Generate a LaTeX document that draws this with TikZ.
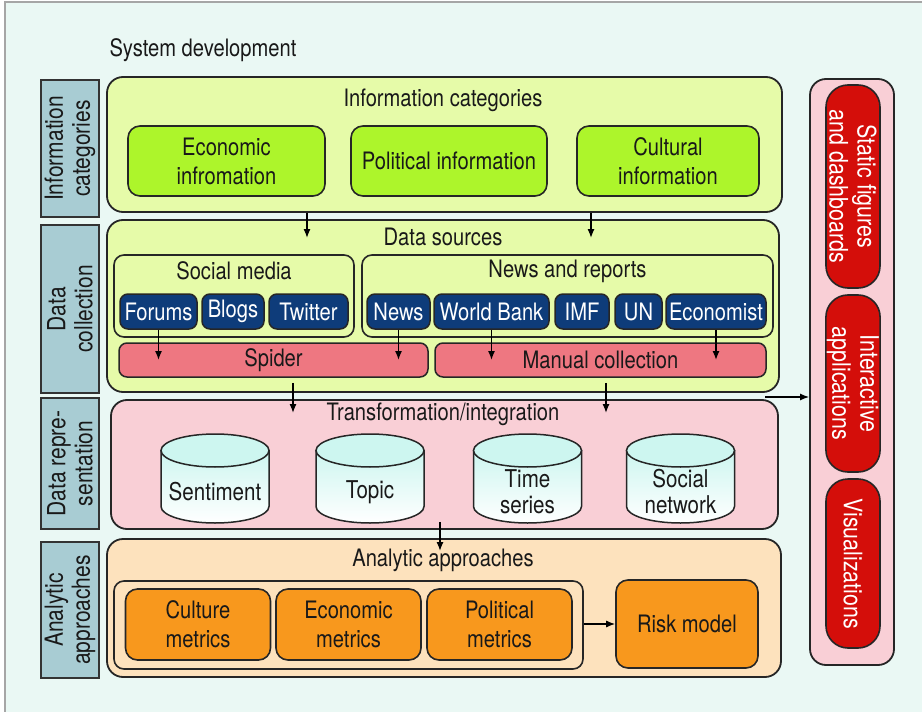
\documentclass[tikz,border=0pt]{standalone}
\usepackage{fontspec}
\setmainfont{TeX Gyre Heros}[FakeStretch=0.84]
\usepackage{tikz}
\usetikzlibrary{shapes.geometric, arrows.meta, positioning}

\definecolor{bgmint}{HTML}{EAF8F4}
\definecolor{sidebox}{HTML}{A8CCD3}
\definecolor{lightlime}{HTML}{E6FBA9}
\definecolor{lime}{HTML}{ADF52B}
\definecolor{navy}{HTML}{0E3C7A}
\definecolor{salmon}{HTML}{EE7781}
\definecolor{lightpink}{HTML}{F9CFD6}
\definecolor{cylcyan}{HTML}{CDF6F0}
\definecolor{peach}{HTML}{FDE2BD}
\definecolor{orange}{HTML}{F8981D}
\definecolor{deepred}{HTML}{D40E0A}

\begin{document}
\begin{tikzpicture}[
    x=1pt, y=-1pt,
    every node/.style={font=\fontsize{24}{29}\selectfont, text=black!90},
    sidelabel/.style={rectangle, draw=black!80, line width=1.8pt, fill=sidebox, rotate=90, align=center, minimum height=58pt, inner sep=1pt, font=\fontsize{25}{27}\selectfont},
    panel/.style={rectangle, draw=black!85, line width=1.8pt, rounded corners=16pt},
    subpanel/.style={rectangle, draw=black!85, line width=1.6pt, rounded corners=10pt},
    catbox/.style={rectangle, draw=black!85, line width=1.6pt, rounded corners=12pt, fill=lime, align=center, minimum height=70pt},
    srcbox/.style={rectangle, draw=black!85, line width=1.5pt, rounded corners=8pt, fill=navy, text=white, minimum height=35pt, inner sep=0pt, font=\fontsize{24}{28}\selectfont},
    barbox/.style={rectangle, draw=black!85, line width=1.5pt, rounded corners=8pt, fill=salmon, minimum height=34pt},
    cylbody/.style={draw=black!85, line width=1.5pt, top color=cylcyan, bottom color=white},
    cyltop/.style={draw=black!85, line width=1.5pt, fill=cylcyan},
    storetext/.style={align=center, font=\fontsize{24.5}{26}\selectfont},
    metricbox/.style={rectangle, draw=black!85, line width=1.6pt, rounded corners=12pt, fill=orange, align=center, minimum width=145pt, minimum height=71pt},
    redbox/.style={rectangle, draw=black!85, line width=1.6pt, rounded corners=22pt, fill=deepred, text=white, rotate=-90, align=center, minimum height=54pt, inner sep=1pt, font=\fontsize{25.5}{28}\selectfont},
    line/.style={draw, -{Latex[length=9pt, width=7pt]}, line width=1.3pt}
]
    % Frame
    \useasboundingbox (0,0) rectangle (922,712);
    \fill[bgmint] (5,2) rectangle (922,712);
    \draw[gray!70, line width=1.5pt] (5,712) -- (5,2) -- (922,2);

    \node[anchor=west] (sysdev) at (106,50) {System development};

    % Side labels
    \node[sidelabel, minimum width=137pt] (lblinfo) at (70,148.5) {Information\\categories};
    \node[sidelabel, minimum width=168pt] (lbldata) at (70,309) {Data\\collection};
    \node[sidelabel, minimum width=131pt] (lblrep) at (70,463.5) {Data repre-\\sentation};
    \node[sidelabel, minimum width=136pt] (lblana) at (70,610) {Analytic\\approaches};

    % Information categories
    \node[panel, fill=lightlime, minimum width=675pt, minimum height=135pt] (infopanel) at (444.5,144.5) {};
    \node (infotitle) at (443,100) {Information categories};
    \node[catbox, minimum width=197pt] (econ) at (226.5,161) {Economic\\infromation};
    \node[catbox, minimum width=196pt] (polit) at (449,161) {Political information};
    \node[catbox, minimum width=182pt] (cult) at (668,161) {Cultural\\information};

    % Data collection
    \node[panel, fill=lightlime, minimum width=672pt, minimum height=172pt] (datapanel) at (443,306) {};
    \node (datatitle) at (443,237) {Data sources};
    \node[subpanel, minimum width=240pt, minimum height=82pt] (social) at (234,296) {};
    \node[subpanel, minimum width=411pt, minimum height=82pt] (newsrep) at (567.5,296) {};
    \node (socialtitle) at (234,271) {Social media};
    \node (newstitle) at (567.5,271) {News and reports};

    \node[srcbox, minimum width=77pt] (forums) at (158.5,311.5) {Forums};
    \node[srcbox, minimum width=62pt] (blogs) at (233,311.5) {Blogs};
    \node[srcbox, minimum width=79pt] (twitter) at (308.5,311.5) {Twitter};
    \node[srcbox, minimum width=63pt] (news) at (398.5,311.5) {News};
    \node[srcbox, minimum width=115pt] (wbank) at (491.5,311.5) {World Bank};
    \node[srcbox, minimum width=54pt] (imf) at (582,311.5) {IMF};
    \node[srcbox, minimum width=47pt] (un) at (638.5,311.5) {UN};
    \node[srcbox, minimum width=100pt] (economist) at (716,311.5) {Economist};

    \node[barbox, minimum width=309pt] (spider) at (273.5,360) {Spider};
    \node[barbox, minimum width=331pt] (manual) at (600.5,360) {Manual collection};

    % Data representation
    \node[panel, fill=lightpink, minimum width=667pt, minimum height=129pt] (reppanel) at (444.5,464.5) {};
    \node (reptitle) at (443,414) {Transformation/integration};
    \foreach \cx/\nm/\txt in {215/sent/Sentiment, 370/topic/Topic, 527.5/tseries/{Time\\series}, 680.5/socnet/{Social\\network}} {
        \shadedraw[cylbody] (\cx-54,450.5) -- (\cx-54,506.5)
            arc[start angle=180, end angle=0, x radius=54, y radius=16.5] -- (\cx+54,450.5) -- cycle;
        \filldraw[cyltop] (\cx,450.5) ellipse [x radius=54, y radius=16.5];
        \node[storetext] (\nm) at (\cx,492) {\txt};
    }

    % Analytic approaches
    \node[panel, fill=peach, minimum width=674pt, minimum height=138pt] (anapanel) at (444,608) {};
    \node (anatitle) at (443,560) {Analytic approaches};
    \node[subpanel, fill=peach, minimum width=469pt, minimum height=88pt] (metrics) at (348.5,625) {};
    \node[metricbox] (culture) at (198,624.5) {Culture\\metrics};
    \node[metricbox] (econmet) at (348.5,624.5) {Economic\\metrics};
    \node[metricbox] (politmet) at (499.5,624.5) {Political\\metrics};
    \node[metricbox, minimum width=142pt, minimum height=88pt] (risk) at (687,624) {Risk model};

    % Output column
    \node[panel, fill=lightpink, minimum width=84pt, minimum height=586pt] (outcol) at (852,372) {};
    \node[redbox, minimum width=203pt] (static) at (853,186.5) {Static figures\\and dashboards};
    \node[redbox, minimum width=177pt] (interact) at (853,383.5) {Interactive\\applications};
    \node[redbox, minimum width=169pt] (vis) at (853,563.5) {Visualizations};

    % Connections
    \coordinate (c1) at (307,238);
    \coordinate (c2) at (591,238);
    \path [line] (c1 |- infopanel.south) -- (c1);
    \path [line] (c2 |- infopanel.south) -- (c2);

    \path [line] (forums) -- (forums |- spider);
    \path [line] (news) -- (news |- spider);
    \path [line] (wbank) -- (wbank |- manual);
    \path [line] (economist) -- (economist |- manual);

    \coordinate (t1) at (293,413);
    \coordinate (t2) at (606,413);
    \path [line, shorten <=5pt] (t1 |- spider.south) -- (t1);
    \path [line, shorten <=5pt] (t2 |- manual.south) -- (t2);

    \coordinate (a1) at (440,551);
    \path [line, shorten <=-8pt] (a1 |- reppanel.south) -- (a1);

    \coordinate (h1) at (765,397);
    \path [line] (h1) -- (h1 -| outcol.west);

    \path [line] (metrics.east |- risk) -- (risk);

\end{tikzpicture}
\end{document}
